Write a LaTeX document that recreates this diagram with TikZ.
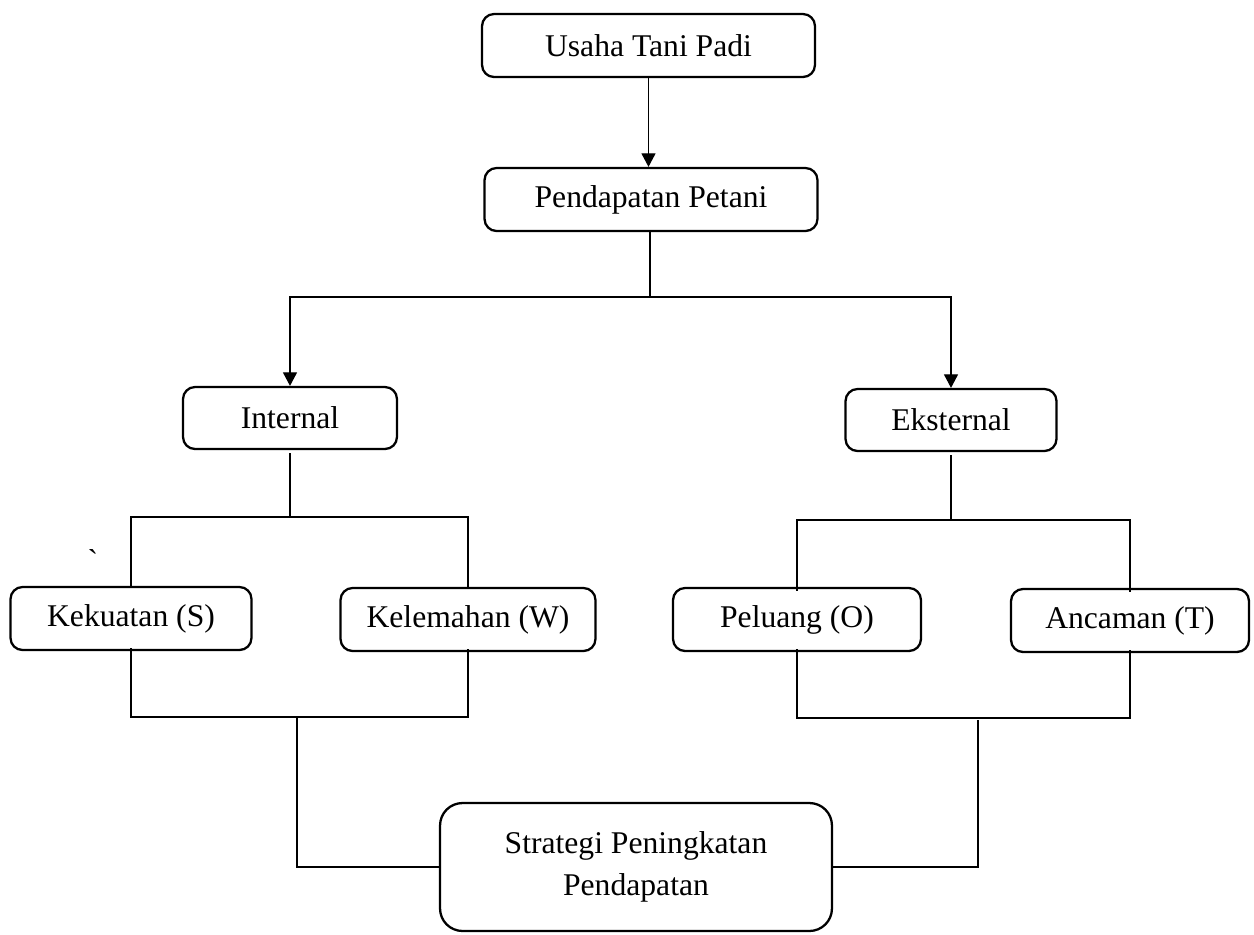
\documentclass[tikz,border=0pt]{standalone}
\usepackage{fontspec}
\setmainfont{Liberation Serif}
\newfontfamily\tickfont[Ligatures=ResetAll]{Liberation Serif}
\usetikzlibrary{arrows.meta}
\begin{document}
\begin{tikzpicture}[x=0.02cm,y=-0.02cm,
  box/.style={draw, line width=1.3pt, rounded corners=0.24cm, align=center,
    inner sep=0pt, font=\fontsize{18pt}{24pt}\selectfont},
  conn/.style={line width=0.7pt},
  arr/.style={line width=0.7pt, -{Triangle[length=0.27cm,width=0.28cm]}}]
\useasboundingbox (0,0) rectangle (1254,934);
% nodes
\node[box, minimum width=6.66cm, minimum height=1.26cm] (usaha) at (648.5,45.5) {Usaha Tani Padi};
\node[box, minimum width=6.66cm, minimum height=1.26cm] (pend) at (651,199.5) {Pendapatan Petani};
\node[box, minimum width=4.28cm, minimum height=1.24cm] (internal) at (290,418) {Internal};
\node[box, minimum width=4.22cm, minimum height=1.24cm] (eksternal) at (951,420) {Eksternal};
\node[box, minimum width=4.82cm, minimum height=1.26cm] (kek) at (131,618.5) {Kekuatan (S)};
\node[box, minimum width=5.1cm, minimum height=1.26cm] (kel) at (468,619.5) {Kelemahan (W)};
\node[box, minimum width=4.96cm, minimum height=1.26cm] (pel) at (797,619.5) {Peluang (O)};
\node[box, minimum width=4.76cm, minimum height=1.26cm] (anc) at (1130,620.5) {Ancaman (T)};
\node[box, rounded corners=0.45cm, minimum width=7.84cm, minimum height=2.56cm,
  font=\fontsize{18pt}{24pt}\selectfont] (strat) at (636,867) {Strategi Peningkatan\\Pendapatan};
\node[font=\tickfont\fontsize{18pt}{24pt}\selectfont, inner sep=0pt] (tick) at (93,560) {^^^^0060};
% junction coordinates
\coordinate (j1) at (650,297);
\coordinate (ji) at (290,517);
\coordinate (je) at (951,520);
\coordinate (jl) at (297,717);
\coordinate (jr) at (978,718);
% connectors
\draw[arr] (usaha.south) -- (usaha.south |- pend.north);
\draw[conn] (pend.south -| j1) -- (j1);
\draw[arr] (j1) -| (internal.north);
\draw[arr] (j1) -| (eksternal.north);
% internal group
\draw[conn] ([yshift=-0.06cm]internal.south) -- (ji);
\draw[conn] ([yshift=-0.04cm]kek.north) -- (kek.north |- ji) -- (kel.north |- ji) -- ([yshift=-0.04cm]kel.north);
\draw[conn] ([yshift=0.06cm]kek.south) -- (kek.south |- jl) -- (kel.south |- jl) -- ([yshift=0.06cm]kel.south);
\draw[conn] (jl) |- (strat.west);
% external group
\draw[conn] ([yshift=-0.06cm]eksternal.south) -- (je);
\draw[conn] ([yshift=-0.08cm]pel.north) -- (pel.north |- je) -- (anc.north |- je) -- ([yshift=-0.08cm]anc.north);
\draw[conn] ([yshift=0.06cm]pel.south) -- (pel.south |- jr) -- (anc.south |- jr) -- ([yshift=0.06cm]anc.south);
\draw[conn] ([yshift=-0.04cm]jr) |- (strat.east);
\end{tikzpicture}
\end{document}
